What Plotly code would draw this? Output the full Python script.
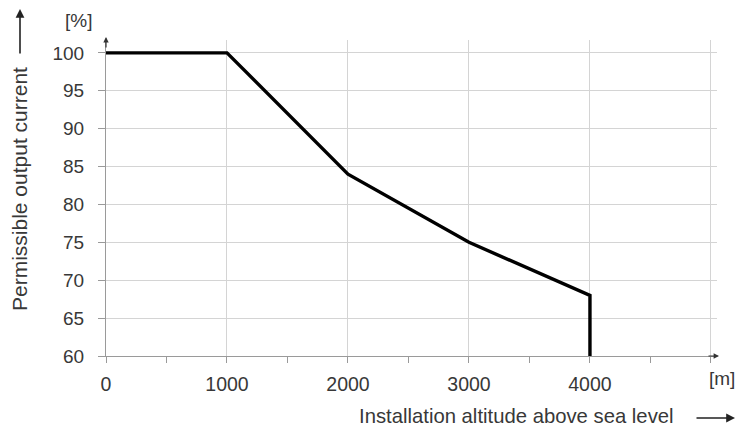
import plotly.graph_objects as go

altitude_m = [0, 1000, 2000, 3000, 4000, 4000]
current_pct = [100, 100, 84, 75, 68, 60]
x_tickvals = [0, 1000, 2000, 3000, 4000, 5000]
x_ticktext = ["0", "1000", "2000", "3000", "4000", ""]
y_tickvals = [60, 65, 70, 75, 80, 85, 90, 95, 100]

FONT = "Liberation Sans, Arial, sans-serif"
TXT = "#383838"
GRID = "#d4d4d4"
AX = "#9a9a9a"

# page body has an 8px margin -> design in reference pixels, then shift
OFF = 8
W, H = 745 - 2 * OFF, 437 - 2 * OFF - 1
PL, PR, PT, PB = 106, 717, 40, 356  # plot area in reference pixels


def px(X):
    return (X - PL) / (PR - PL)


def py(Y):
    return (PB - Y) / (PB - PT)


fig = go.Figure()
fig.add_trace(go.Scatter(x=altitude_m, y=current_pct, mode="lines",
                         line=dict(color="black", width=3.4), hoverinfo="skip",
                         showlegend=False))

fig.update_layout(
    width=W, height=H,
    margin=dict(l=PL - OFF, r=W - (PR - OFF), t=PT - OFF, b=H - (PB - OFF), pad=0),
    plot_bgcolor="white", paper_bgcolor="white",
    font=dict(family=FONT, size=19.5, color=TXT),
    xaxis=dict(range=[0, 5050], tickvals=x_tickvals, ticktext=x_ticktext,
               showgrid=True, gridcolor=GRID, gridwidth=1,
               showline=True, linecolor=AX, linewidth=1,
               ticks="outside", ticklen=6, tickcolor=AX,
               minor=dict(dtick=500, tick0=0, ticks="outside", ticklen=6,
                          tickcolor=AX, showgrid=False),
               zeroline=False, ticklabelstandoff=5),
    yaxis=dict(range=[60, 101.7], tickvals=y_tickvals,
               showgrid=True, gridcolor=GRID, gridwidth=1,
               showline=True, linecolor=AX, linewidth=1,
               ticks="outside", ticklen=7, tickcolor=AX,
               zeroline=False, ticklabelstandoff=10,
               tickfont=dict(size=19)),
)

# axis arrowheads
fig.add_annotation(x=px(719), y=py(356), xref="paper", yref="paper", ax=-12, ay=0,
                   text="", showarrow=True, arrowhead=2, arrowsize=0.9,
                   arrowwidth=1.2, arrowcolor="#333")
fig.add_annotation(x=px(106), y=py(37), xref="paper", yref="paper", ax=0, ay=12,
                   text="", showarrow=True, arrowhead=2, arrowsize=0.9,
                   arrowwidth=1.2, arrowcolor="#333")

# units
fig.add_annotation(xref="paper", yref="paper", x=px(78), y=py(21),
                   xanchor="center", yanchor="middle", text="[%]", showarrow=False,
                   font=dict(size=19, color=TXT))
fig.add_annotation(xref="paper", yref="paper", x=px(722), y=py(378),
                   xanchor="center", yanchor="middle", text="[m]", showarrow=False,
                   font=dict(size=19, color=TXT))

# axis titles
fig.add_annotation(xref="paper", yref="paper", x=px(676), y=py(416),
                   xanchor="right", yanchor="middle",
                   text="Installation altitude above sea level",
                   showarrow=False, font=dict(size=20.3, color=TXT))
fig.add_annotation(x=px(735), y=py(418), xref="paper", yref="paper", ax=-40, ay=0,
                   text="", showarrow=True, arrowhead=2, arrowsize=1.1,
                   arrowwidth=1.6, arrowcolor="#222")
fig.add_annotation(xref="paper", yref="paper", x=px(19), y=py(189),
                   xanchor="center", yanchor="middle", textangle=-90,
                   text="Permissible output current",
                   showarrow=False, font=dict(size=21, color=TXT))
fig.add_annotation(x=px(20), y=py(7), xref="paper", yref="paper", ax=0, ay=48,
                   text="", showarrow=True, arrowhead=2, arrowsize=1.1,
                   arrowwidth=1.6, arrowcolor="#222")

fig.write_html("out.html")
